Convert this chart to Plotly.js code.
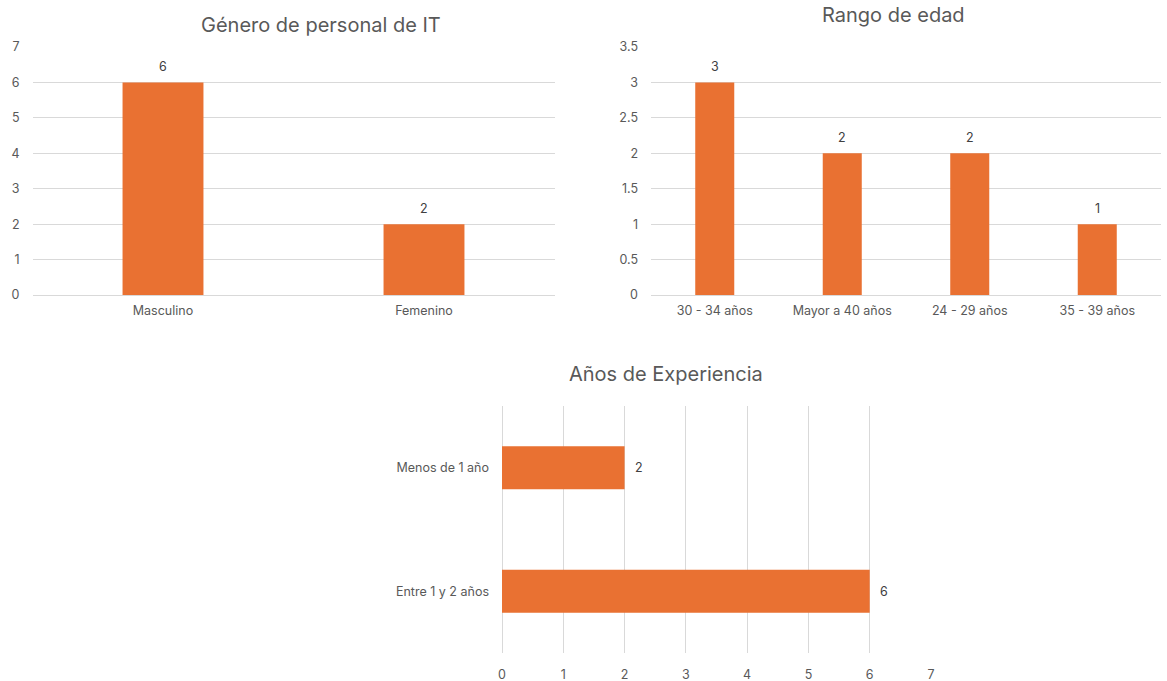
<!DOCTYPE html>
<html>
<head>
<meta charset="utf-8">
<script src="https://cdn.plot.ly/plotly-3.0.1.min.js"></script>
<style>html,body{margin:0;padding:0;background:#fff;}#chart{width:1167px;height:681px;}</style>
</head>
<body>
<div id="chart"></div>
<script>
const genderCategories = ["Masculino", "Femenino"];
const genderValues = [6, 2];

const ageCategories = ["30 - 34 años", "Mayor a 40 años", "24 - 29 años", "35 - 39 años"];
const ageValues = [3, 2, 2, 1];

const expCategories = ["Entre 1 y 2 años", "Menos de 1 año"];
const expValues = [6, 2];

const titles = ["Género de personal de IT", "Rango de edad", "Años de Experiencia"];

const W = 1167, H = 681;
const px = x => x / W;
const py = y => 1 - y / H;

const orange = "#E97132";
const grid = "#D9D9D9";
const tickColor = "#595959";
const FONT = "Inter, 'Open Sans', Roboto, sans-serif";

const traces = [
  {type: "bar", x: genderCategories, y: genderValues, xaxis: "x", yaxis: "y",
   marker: {color: orange}, width: 0.31, hoverinfo: "x+y"},
  {type: "bar", x: ageCategories, y: ageValues, xaxis: "x2", yaxis: "y2",
   marker: {color: orange}, width: 0.306, hoverinfo: "x+y"},
  {type: "bar", orientation: "h", y: expCategories, x: expValues, xaxis: "x3", yaxis: "y3",
   marker: {color: orange}, width: 0.35, hoverinfo: "x+y"}
];

const tickFont = {color: tickColor, size: 12.5, family: FONT};
const labelFont = {color: "#404040", size: 12.5, family: FONT};

const annotations = [];
genderCategories.forEach((c, i) => annotations.push({
  text: String(genderValues[i]), xref: "x", yref: "y", x: c, y: genderValues[i],
  yshift: 16, showarrow: false, xanchor: "center", yanchor: "middle", font: labelFont}));
ageCategories.forEach((c, i) => annotations.push({
  text: String(ageValues[i]), xref: "x2", yref: "y2", x: c, y: ageValues[i],
  yshift: 16, showarrow: false, xanchor: "center", yanchor: "middle", font: labelFont}));
expCategories.forEach((c, i) => annotations.push({
  text: String(expValues[i]), xref: "x3", yref: "y3", x: expValues[i], y: c,
  xshift: 14, showarrow: false, xanchor: "center", yanchor: "middle", font: labelFont}));

annotations.push(
  {text: titles[0], xref: "paper", yref: "paper", x: px(321), y: py(25), xanchor: "center", yanchor: "middle",
   showarrow: false, font: {size: 20, color: tickColor, family: FONT}},
  {text: titles[1], xref: "paper", yref: "paper", x: px(893), y: py(15), xanchor: "center", yanchor: "middle",
   showarrow: false, font: {size: 20, color: tickColor, family: FONT}},
  {text: titles[2], xref: "paper", yref: "paper", x: px(666), y: py(374), xanchor: "center", yanchor: "middle",
   showarrow: false, font: {size: 20, color: tickColor, family: FONT}}
);

const layout = {
  width: W, height: H,
  margin: {l: 0, r: 0, t: 0, b: 0},
  paper_bgcolor: "#fff", plot_bgcolor: "#fff",
  showlegend: false,
  font: {family: FONT, color: tickColor},
  xaxis: {domain: [px(32.5), px(554.5)], range: [-0.5, 1.5], anchor: "y",
    showgrid: false, zeroline: false, showline: false, ticks: "", tickfont: tickFont,
    ticklabelstandoff: 6, fixedrange: true},
  yaxis: {domain: [py(295), py(47)], range: [0, 7], dtick: 1, anchor: "x",
    showgrid: true, gridcolor: grid, gridwidth: 1, zeroline: true, zerolinecolor: grid,
    showline: false, ticks: "", tickfont: tickFont, ticklabelstandoff: 12, fixedrange: true},
  xaxis2: {domain: [px(651), px(1161)], range: [-0.5, 3.5], anchor: "y2",
    showgrid: false, zeroline: false, showline: false, ticks: "", tickfont: tickFont,
    ticklabelstandoff: 6, fixedrange: true},
  yaxis2: {domain: [py(295), py(47)], range: [0, 3.5], dtick: 0.5, anchor: "x2",
    showgrid: true, gridcolor: grid, gridwidth: 1, zeroline: true, zerolinecolor: grid,
    showline: false, ticks: "", tickfont: tickFont, ticklabelstandoff: 12, fixedrange: true},
  xaxis3: {domain: [px(502), px(931)], range: [0, 7], dtick: 1, anchor: "y3",
    showgrid: true, gridcolor: grid, gridwidth: 1, zeroline: true, zerolinecolor: grid,
    showline: false, ticks: "", tickfont: tickFont, ticklabelstandoff: 12, fixedrange: true},
  yaxis3: {domain: [py(653), py(406)], range: [-0.5, 1.5], anchor: "x3",
    showgrid: false, zeroline: false, showline: false, ticks: "", tickfont: tickFont,
    ticklabelstandoff: 12, fixedrange: true},
  annotations: annotations
};

Plotly.newPlot("chart", traces, layout, {displayModeBar: false, staticPlot: true});
</script>
</body>
</html>
